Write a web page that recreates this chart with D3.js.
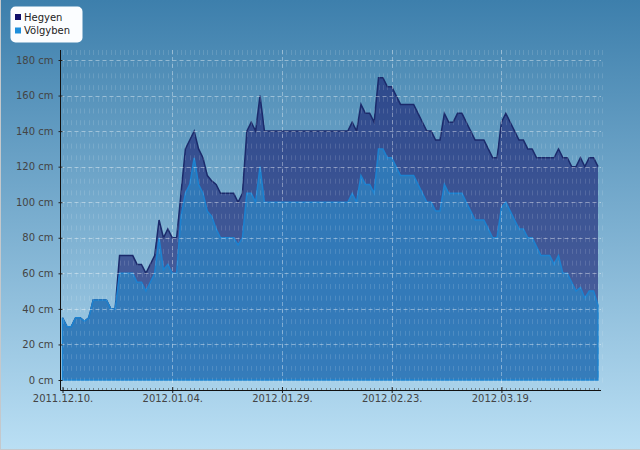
<!DOCTYPE html>
<html><head><meta charset="utf-8">
<script src="https://cdn.jsdelivr.net/npm/d3@7"></script>
<style>body{margin:0;background:#fff;} svg{display:block;font-family:"DejaVu Sans",Verdana,sans-serif;}</style>
</head><body><svg id="c" width="640" height="450"></svg>
<script>
// ---- data ----
const startDate = "2011-12-10";
const seriesNames = ["Hegyen", "Völgyben"];
const hegyen = [35,30,30,35,35,33,35,45,45,45,45,40,40,
70,70,70,70,65,65,60,65,70,
90,80,85,80,80,
105,130,135,140,130,125,115,112,110,
105,105,105,105,100,105,
140,145,140,160,
140,140,140,140,140,140,140,140,140,140,140,140,140,140,140,140,140,140,140,140,
145,140,155,150,150,145,170,170,165,165,160,
155,155,155,155,
150,145,140,140,135,135,150,145,145,150,150,145,140,
135,135,135,130,125,125,
145,150,145,140,135,135,130,130,
125,125,125,125,125,130,125,125,120,120,125,120,125,125,120];
const volgyben = [35,30,30,35,35,33,35,45,45,45,45,40,40,
60,60,60,60,55,55,50,55,60,
80,62,65,60,60,
92,105,110,125,110,105,95,92,85,
80,80,80,80,76,80,
105,105,100,120,
100,100,100,100,100,100,100,100,100,100,100,100,100,100,100,100,100,100,100,100,
105,100,115,110,110,105,130,130,125,125,120,
115,115,115,115,
110,105,100,100,95,95,110,105,105,105,105,100,95,
90,90,90,85,80,80,
97,100,95,90,85,85,80,80,
75,70,70,70,65,70,60,60,55,50,52,46,50,50,42];
const xTickDates = ["2011-12-10","2012-01-04","2012-01-29","2012-02-23","2012-03-19"];
const yTicks = [0,20,40,60,80,100,120,140,160,180];
const yUnit = " cm";

// ---- setup ----
const svg = d3.select("#c");
const W = 640, H = 450;
const plot = {left: 60.5, right: 601, top: 50, bottom: 390};
const parse = d3.utcParse("%Y-%m-%d");
const t0 = parse(startDate);
const dates = hegyen.map((_, i) => d3.utcDay.offset(t0, i));
const x = d3.scaleUtc().domain([t0, dates[dates.length - 1]]).range([62.5, 598]);
const y = d3.scaleLinear().domain([0, 180]).range([380, 60]);

const defs = svg.append("defs");
const g = defs.append("linearGradient").attr("id", "bg").attr("x1", 0).attr("y1", 0).attr("x2", 0).attr("y2", 1);
g.append("stop").attr("offset", "0%").attr("stop-color", "#3d7fac");
g.append("stop").attr("offset", "100%").attr("stop-color", "#badff4");

svg.append("rect").attr("width", W).attr("height", H).attr("fill", "url(#bg)");

// ---- areas ----
const hData = dates.map((d, i) => ({date: d, v: hegyen[i]}));
const vData = dates.map((d, i) => ({date: d, v: volgyben[i]}));
const area = d3.area().x(d => x(d.date)).y0(y(0)).y1(d => y(d.v));
const line = d3.line().x(d => x(d.date)).y(d => y(d.v));

svg.append("path").datum(hData).attr("d", area).attr("fill", "#151a6e").attr("fill-opacity", 0.6);
svg.append("path").datum(hData).attr("d", line).attr("fill", "none").attr("stroke", "#1b2a6b").attr("stroke-width", 1.5);
svg.append("path").datum(vData).attr("d", area).attr("fill", "#2e83c2").attr("fill-opacity", 0.78)
  .attr("stroke", "#1c82d0").attr("stroke-width", 1.5);

// ---- grid ----
const days = d3.utcDay.range(t0, d3.utcDay.offset(t0, 124));
svg.append("g").selectAll("line").data(days).join("line")
  .attr("x1", d => Math.round(x(d)) + 0.5).attr("x2", d => Math.round(x(d)) + 0.5)
  .attr("y1", plot.top).attr("y2", plot.bottom)
  .attr("stroke", "#fff").attr("stroke-opacity", 0.13).attr("stroke-dasharray", "5,6.7");
svg.append("g").selectAll("line").data(yTicks.filter(v => v > 0)).join("line")
  .attr("x1", plot.left).attr("x2", plot.right)
  .attr("y1", d => Math.round(y(d)) + 0.5).attr("y2", d => Math.round(y(d)) + 0.5)
  .attr("stroke", "#fff").attr("stroke-opacity", 0.4).attr("stroke-dasharray", "4,3");
svg.append("g").selectAll("line").data(xTickDates.slice(1).map(parse)).join("line")
  .attr("x1", d => Math.round(x(d)) + 0.5).attr("x2", d => Math.round(x(d)) + 0.5)
  .attr("y1", plot.top).attr("y2", plot.bottom)
  .attr("stroke", "#fff").attr("stroke-opacity", 0.35).attr("stroke-dasharray", "4,3");

// ---- axes ----
svg.append("g").selectAll("line").data(days.filter(d => x(d) < plot.right)).join("line")
  .attr("x1", d => Math.round(x(d)) + 0.5).attr("x2", d => Math.round(x(d)) + 0.5)
  .attr("y1", plot.bottom - 2).attr("y2", plot.bottom)
  .attr("stroke", "#333").attr("stroke-opacity", 0.5);

const yAxis = svg.append("g").attr("transform", `translate(${plot.left},0)`)
  .call(d3.axisLeft(y).tickValues(yTicks).tickFormat(d => d + yUnit).tickSize(2).tickPadding(5));
yAxis.select(".domain").remove();
yAxis.selectAll(".tick line").attr("x1", -2).attr("x2", 2).attr("stroke", "#222");
yAxis.selectAll("text").attr("font-size", 10).attr("fill", "#444").attr("font-family", "DejaVu Sans");

const xAxis = svg.append("g").attr("transform", `translate(0,${plot.bottom})`)
  .call(d3.axisBottom(x).tickValues(xTickDates.map(parse)).tickFormat(d3.utcFormat("%Y.%m.%d.")).tickSize(3).tickPadding(2));
xAxis.select(".domain").remove();
xAxis.selectAll(".tick line").attr("y1", -3).attr("y2", 3).attr("stroke", "#222");
xAxis.selectAll("text").attr("font-size", 10).attr("fill", "#444").attr("font-family", "DejaVu Sans");

svg.append("line").attr("x1", plot.left).attr("x2", plot.left).attr("y1", plot.top).attr("y2", plot.bottom + 0.5).attr("stroke", "#111");
svg.append("line").attr("x1", plot.left).attr("x2", plot.right).attr("y1", plot.bottom + 0.5).attr("y2", plot.bottom + 0.5).attr("stroke", "#111");

// ---- legend ----
const legendColors = ["#10106a", "#1e8fdc"];
const lg = svg.append("g");
lg.append("rect").attr("x", 10.5).attr("y", 6.5).attr("width", 72).attr("height", 36).attr("rx", 5)
  .attr("fill", "#fbfdff");
seriesNames.forEach((n, i) => {
  lg.append("rect").attr("x", 15).attr("y", 14 + i * 13.5).attr("width", 6).attr("height", 6).attr("fill", legendColors[i]);
  lg.append("text").attr("x", 24).attr("y", 20.5 + i * 13).attr("font-size", 10).attr("fill", "#222").text(n);
});

// ---- border ----
svg.append("line").attr("x1", 0.5).attr("x2", 0.5).attr("y1", 0).attr("y2", H).attr("stroke", "#c4c8cc");
svg.append("line").attr("x1", 0).attr("x2", W).attr("y1", H - 0.5).attr("y2", H - 0.5).attr("stroke", "#c4c8cc");
</script>
</body></html>
